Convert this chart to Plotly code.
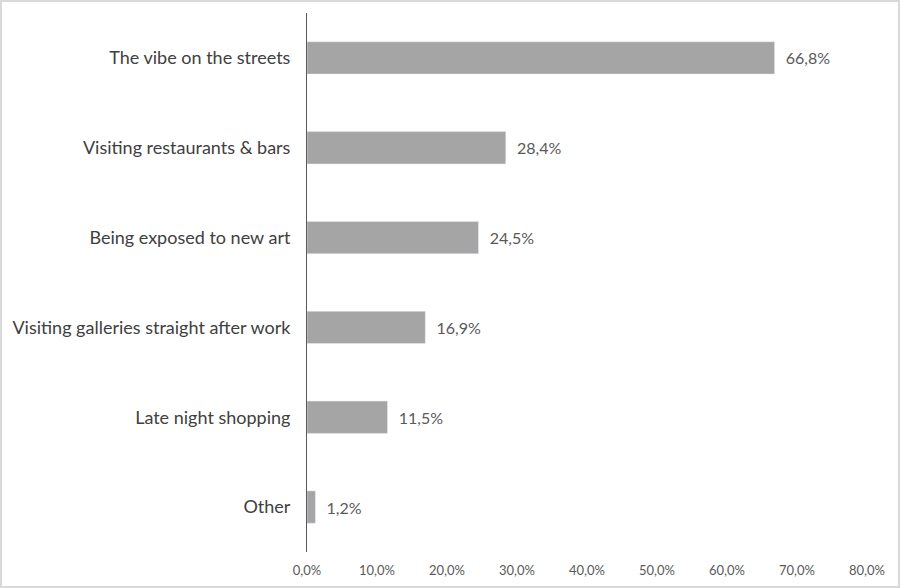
import plotly.graph_objects as go

categories = ["The vibe on the streets", "Visiting restaurants & bars", "Being exposed to new art",
              "Visiting galleries straight after work", "Late night shopping", "Other"]
values = [66.8, 28.4, 24.5, 16.9, 11.5, 1.2]

fig = go.Figure(go.Bar(
    y=categories, x=values, orientation="h",
    marker_color="#a5a5a5", width=0.36,
    text=["\u00a0\u00a0" + f"{v:.1f}%".replace(".", ",") for v in values],
    textposition="outside", cliponaxis=False,
    textfont=dict(color="#595959", size=16),
))

W, H = 900, 588
l, r, t, b = 307, 33, 13, 36
pw, ph = W - l - r, H - t - b

fig.update_layout(
    width=W, height=H,
    margin=dict(l=l, r=r, t=t, b=b),
    paper_bgcolor="white", plot_bgcolor="white",
    font=dict(family="Lato, Noto Sans, sans-serif", color="#404040"),
    separators=", ",
    showlegend=False,
    shapes=[dict(type="rect", xref="paper", yref="paper",
                 x0=-(l - 1) / pw, x1=1 + (r - 1) / pw,
                 y0=-(b - 1) / ph, y1=1 + (t - 1) / ph,
                 line=dict(color="#d9d9d9", width=2))],
)
fig.update_xaxes(range=[0, 80], dtick=10, tickformat=".1f", ticksuffix="%",
                 showgrid=False, zeroline=False, showline=False, automargin=False,
                 tickfont=dict(size=13, color="#595959"),
                 ticks="outside", ticklen=6, tickcolor="rgba(0,0,0,0)")
fig.update_yaxes(autorange="reversed", showgrid=False, showline=True, linecolor="#595959",
                 linewidth=1, ticks="", ticklabelstandoff=12, automargin=False,
                 tickfont=dict(size=18, color="#404040"))

fig.write_html("out.html", config={"displayModeBar": False},
               post_script="document.body.style.margin='0';")
